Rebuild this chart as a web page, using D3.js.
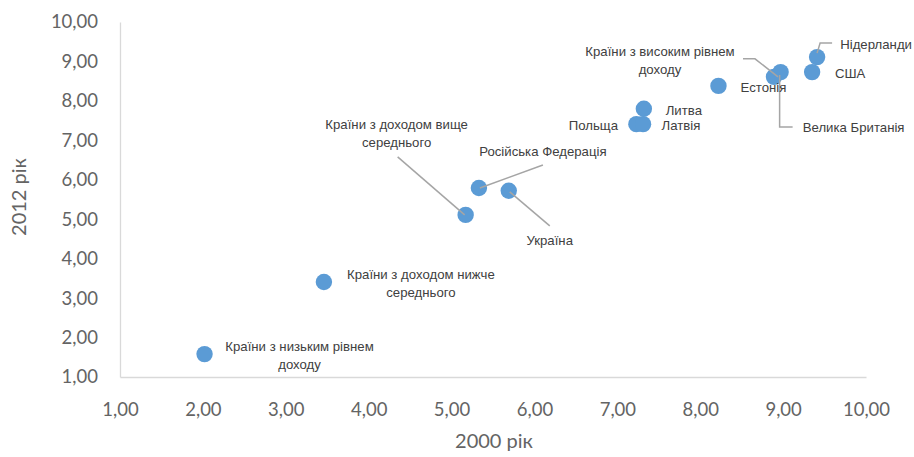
<!DOCTYPE html>
<html><head><meta charset="utf-8">
<script src="https://cdn.jsdelivr.net/npm/d3@7"></script>
<style>
body{margin:0;background:#fff;}
svg{display:block;}
</style></head>
<body>
<svg id="c" width="914" height="457"></svg>
<script>
const names = ["Країни з низьким рівнем доходу","Країни з доходом нижче середнього","Країни з доходом вище середнього","Російська Федерація","Україна","Польща","Латвія","Литва","Естонія","Країни з високим рівнем доходу","Велика Британія","США","Нідерланди"];
const x2000 = [2.02, 3.46, 5.17, 5.33, 5.69, 7.23, 7.31, 7.32, 8.22, 8.89, 8.97, 9.35, 9.41];
const y2012 = [1.58, 3.41, 5.11, 5.79, 5.72, 7.41, 7.41, 7.80, 8.38, 8.61, 8.73, 8.73, 9.11];
const ticks = [1,2,3,4,5,6,7,8,9,10];
const xTitle = "2000 рік", yTitle = "2012 рік";

const labelLayout = [
  {lines:["Країни з низьким рівнем","доходу"], dx:95, dy:-3},
  {lines:["Країни з доходом нижче","середнього"], dx:97, dy:-3},
  {lines:["Країни з доходом вище","середнього"], dx:-69, dy:-86, leader:[[-68,-58],[-1,0]]},
  {lines:["Російська Федерація"], dx:64, dy:-32, leader:[[64,-23],[1,0]]},
  {lines:["Україна"], dx:41, dy:54, leader:[[41,35],[1,1]]},
  {lines:["Польща"], dx:-43, dy:6},
  {lines:["Латвія"], dx:38, dy:6},
  {lines:["Литва"], dx:40, dy:6},
  {lines:["Естонія"], dx:45, dy:6},
  {lines:["Країни з високим рівнем","доходу"], dx:-114, dy:-21, leader:[[-31,-18],[-19,-18],[4,0]]},
  {lines:["Велика Британія"], dx:73, dy:60, leader:[[-1,3],[-1,55],[12,55]]},
  {lines:["США"], dx:38, dy:6},
  {lines:["Нідерланди"], dx:59, dy:-8, leader:[[15,-14],[3,-14],[0,-4]]}
];

const svg = d3.select("#c");
const x = d3.scaleLinear().domain([1,10]).range([120,866]);
const y = d3.scaleLinear().domain([1,10]).range([377,22]);
const fmt = d => d3.format(".2f")(d).replace(".", ",");

const axisFont = "Lato, 'Open Sans', sans-serif";
const gx = svg.append("g").attr("transform","translate(0,377)")
  .call(d3.axisBottom(x).tickValues(ticks).tickFormat(fmt).tickSize(0).tickPadding(26));
const gy = svg.append("g").attr("transform","translate(120,0)")
  .call(d3.axisLeft(y).tickValues(ticks).tickFormat(fmt).tickSize(0).tickPadding(22));
[gx,gy].forEach(g=>{
  g.select(".domain").attr("stroke","#d9d9d9").attr("stroke-width",1.3);
  g.selectAll("text").attr("fill","#646464").style("font-family",axisFont).style("font-size","18.5px");
});

svg.append("text").attr("x",494).attr("y",448).attr("text-anchor","middle")
  .attr("fill","#646464").style("font-family",axisFont).style("font-size","20px").text(xTitle);
svg.append("text").attr("transform","translate(26,197) rotate(-90)").attr("text-anchor","middle")
  .attr("fill","#646464").style("font-family",axisFont).style("font-size","20px").text(yTitle);

const data = names.map((n,i)=>({n, x:x2000[i], y:y2012[i], L:labelLayout[i]}));

svg.append("g").selectAll("circle").data(data).join("circle")
  .attr("cx",d=>x(d.x)).attr("cy",d=>y(d.y)).attr("r",8.2).attr("fill","#5b9bd5");

const line = d3.line();
svg.append("g").selectAll("path").data(data.filter(d=>d.L.leader)).join("path")
  .attr("d",d=>line(d.L.leader.map(p=>[x(d.x)+p[0], y(d.y)+p[1]])))
  .attr("fill","none").attr("stroke","#a5a5a5").attr("stroke-width",1.5);

const lab = svg.append("g").selectAll("text").data(data).join("text")
  .attr("text-anchor","middle").attr("fill","#404040")
  .style("font-family","'Liberation Sans Narrow', 'Arial Narrow', 'Liberation Sans', sans-serif")
  .style("font-size","13.2px");
lab.each(function(d){
  const t = d3.select(this);
  const cx = x(d.x)+d.L.dx, by = y(d.y)+d.L.dy;
  d.L.lines.forEach((s,k)=>{
    t.append("tspan").attr("x",cx).attr("y",by+k*18).text(s);
  });
});
</script>
</body></html>
